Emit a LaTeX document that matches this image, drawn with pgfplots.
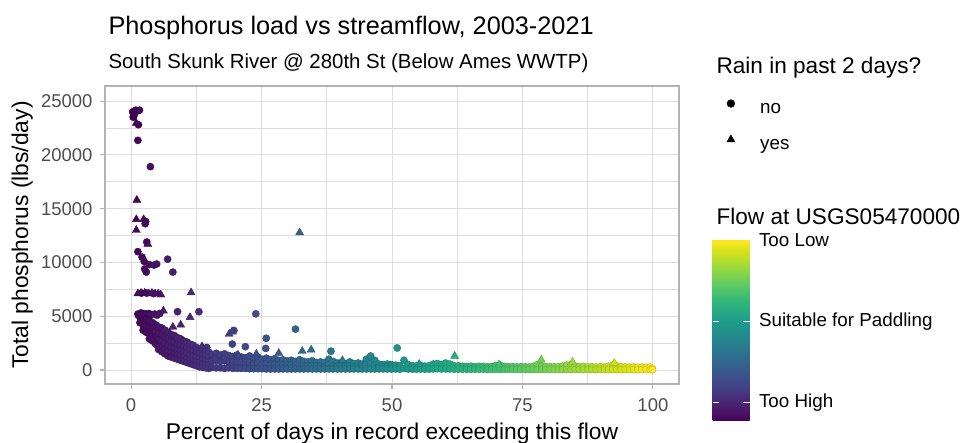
\documentclass[border=0pt]{standalone}
\usepackage{fontspec}
\setmainfont{Liberation Sans}
\usepackage{pgfplots}
\pgfplotsset{compat=1.18}
\definecolor{gray30}{HTML}{4D4D4D}
\definecolor{gray70}{HTML}{B3B3B3}
\definecolor{gray87}{HTML}{DEDEDE}
\newcommand{\fs}[1]{\fontsize{#1}{#1}\selectfont}

\begin{document}
\begin{tikzpicture}[x=1pt,y=1pt]
\begin{axis}[
  at={(105pt,59pt)}, anchor=south west,
  scale only axis, width=574pt, height=298pt,
  xmin=-5, xmax=105, ymin=-1300, ymax=26400,
  xtick={0,25,50,75,100}, ytick={0,5000,...,25000},
  minor xtick={12.5,37.5,62.5,87.5}, minor ytick={2500,7500,...,22500},
  grid=both,
  major grid style={draw=gray87, line width=1pt},
  minor grid style={draw=gray87, line width=0.6pt},
  minor tick length=0pt,
  tick pos=left, tick align=outside, major tick length=5pt,
  major tick style={draw=gray70, line width=1.1pt},
  axis line style={draw=gray70, line width=1.2pt},
  ticklabel style={font=\fs{18.5}, text=gray30},
  xticklabel style={yshift=-6pt},
  yticklabel style={xshift=-4pt},
  /pgf/number format/assume math mode=true,
  /pgf/number format/1000 sep={},
  scaled y ticks=false,
  colormap/viridis,
  point meta min=0, point meta max=100,
  colorbar,
  colorbar/width=37pt,
  colorbar style={
    at={(parent axis.south east)}, anchor=south west,
    xshift=25pt, yshift=-37pt,
    scale only axis, width=37pt, height=181pt,
    ymin=0, ymax=100,
    ytick={10.3,54.9,100},
    yticklabels={Too High, Suitable for Paddling, Too Low},
    yticklabel style={font=\fs{18.8}, text=black, xshift=6pt},
    yticklabel pos=right,
    major tick length=0pt,
    axis line style={draw=none},
    after end axis/.code={
      \draw[white, line width=1.1pt] (rel axis cs:0,0.103) -- (rel axis cs:0.175,0.103);
      \draw[white, line width=1.1pt] (rel axis cs:0.825,0.103) -- (rel axis cs:1,0.103);
      \draw[white, line width=1.1pt] (rel axis cs:0,0.549) -- (rel axis cs:0.175,0.549);
      \draw[white, line width=1.1pt] (rel axis cs:0.825,0.549) -- (rel axis cs:1,0.549);
    },
  },
  legend style={at={(1.0592,1.0023)}, anchor=north west, draw=none, fill=none,
    font=\fs{18.8}, inner sep=0pt, row sep=0pt,
    nodes={inner sep=0pt}},
  legend cell align=left,
  legend image code/.code={
    \path[draw=none, fill=none] (-17.7pt,-12pt) rectangle (29.3pt,24pt);
    \draw[#1] plot coordinates {(0pt,6pt)};
  },
]
\addlegendimage{only marks, mark=*, black, mark size=3.9pt}
\addlegendimage{only marks, mark=triangle*, black, mark size=4.6pt}
\legend{no, yes}

% Rain in past 2 days: no
\addplot[scatter, only marks, mark=*, mark size=3.6pt, scatter src=x, forget plot] coordinates {
(0.3,24000) (0.6,23700) (0.9,24150) (1.3,24100) (1.6,24150) (0.4,23500) (1.4,22800) (1.3,21350)
(3.7,18900) (2.7,13600) (2.8,13800) (3.0,11900) (1.3,11000) (2.1,10500) (2.5,10100) (3.5,9800)
(4.4,9750) (4.9,9850) (7.0,10300) (8.0,9100) (2.9,9100) (2.6,9400) (2.0,7150) (3.0,7150) (4.3,7100)
(8.9,5420) (13.0,5420) (23.9,5220) (31.5,3800) (19.7,3680) (21.9,2170) (25.9,2950) (25.8,2010)
(51.0,2050) (19.4,2410) (14.5,2100) (2.2,4480) (38.3,1750)
(1.3,5200) (1.9,5300) (2.4,5250) (2.9,5200) (3.4,5250) (3.9,5150) (4.5,5200) (5.0,5100) (5.5,5250)
(1.7,4900) (1.7,4400)
(2.3,4800) (2.3,4200) (2.3,3700)
(2.9,4700) (2.9,4100) (2.9,3500)
(3.5,4600) (3.5,4000) (3.5,3400) (3.5,2900)
(4.1,4400) (4.1,3800) (4.1,3200) (4.1,2700)
(4.7,4200) (4.7,3600) (4.7,3000) (4.7,2400)
(5.3,4000) (5.3,3400) (5.3,2800) (5.3,2200) (5.3,1900)
(5.9,3900) (5.9,3300) (5.9,2700) (5.9,2100) (5.9,1700)
(6.5,3700) (6.5,3100) (6.5,2500) (6.5,1900) (6.5,1500)
(7.1,3500) (7.1,2900) (7.1,2300) (7.1,1700) (7.1,1300)
(7.7,3300) (7.7,2700) (7.7,2100) (7.7,1600) (7.7,1200)
(8.3,3200) (8.3,2600) (8.3,2000) (8.3,1500) (8.3,1100)
(8.9,3000) (8.9,2400) (8.9,1900) (8.9,1400) (8.9,1000)
(9.5,2900) (9.5,2300) (9.5,1800) (9.5,1300) (9.5,900)
(10.1,2700) (10.1,2200) (10.1,1700) (10.1,1200) (10.1,800)
(10.7,2600) (10.7,2100) (10.7,1600) (10.7,1100) (10.7,700)
(11.3,2400) (11.3,1900) (11.3,1400) (11.3,1000) (11.3,600)
(11.9,2300) (11.9,1800) (11.9,1300) (11.9,900) (11.9,500)
(12.5,2100) (12.5,1700) (12.5,1250) (12.5,800) (12.5,400)
(13.1,1950) (13.1,1550) (13.1,1100) (13.1,700) (13.1,300)
(13.7,1850) (13.7,1400) (13.7,1000) (13.7,600) (13.7,250)
(14.3,1750) (14.3,1300) (14.3,900) (14.3,500) (14.3,200)
(14.9,1650) (14.9,1200) (14.9,800) (14.9,450) (14.9,150)
(15.5,1450) (15.5,850) (15.5,250) (16.3,1550) (16.3,900) (16.3,200)
(17.1,1400) (17.1,800) (17.1,200) (17.9,1500) (17.9,850) (17.9,150)
(18.7,1350) (18.7,750) (18.7,200) (19.5,1250) (19.5,700) (19.5,150)
(20.3,1400) (20.3,750) (20.3,150) (21.1,1200) (21.1,700) (21.1,150)
(21.9,1150) (21.9,650) (21.9,150) (22.7,1300) (22.7,700) (22.7,120)
(23.5,1100) (23.5,600) (23.5,120) (24.3,1200) (24.3,650) (24.3,120)
(25.1,1000) (25.1,550) (25.1,120) (25.9,1100) (25.9,600) (25.9,100)
(26.7,950) (26.7,550) (26.7,100) (27.5,1050) (27.5,550) (27.5,100)
(28.3,900) (28.3,500) (28.3,100) (29.1,950) (29.1,500) (29.1,100)
(29.9,850) (29.9,450) (29.9,100) (30.7,900) (30.7,500) (30.7,100)
(31.5,800) (31.5,450) (31.5,100) (32.3,950) (32.3,450) (32.3,100)
(33.1,800) (33.1,400) (33.1,100) (33.9,750) (33.9,400) (33.9,100)
(34.7,850) (34.7,450) (34.7,100) (35.5,700) (35.5,400) (35.5,100)
(36.3,750) (36.3,400) (36.3,100) (37.1,700) (37.1,350) (37.1,100)
(37.9,1000) (37.9,500) (37.9,100) (38.7,800) (38.7,400) (38.7,100)
(39.5,650) (39.5,350) (39.5,100) (40.3,700) (40.3,350) (40.3,100)
(41.1,600) (41.1,350) (41.1,100) (41.9,750) (41.9,400) (41.9,100)
(42.7,600) (42.7,300) (42.7,100) (43.5,650) (43.5,350) (43.5,100)
(44.3,550) (44.3,300) (44.3,100) (45.1,1000) (45.1,500) (45.1,100)
(45.9,1300) (45.9,600) (45.9,100) (46.7,900) (46.7,450) (46.7,100)
(47.5,550) (47.5,300) (47.5,100) (48.3,500) (48.3,300) (48.3,100)
(49.1,550) (49.1,300) (49.1,100) (49.9,500) (49.9,300) (49.9,100)
(50.7,450) (50.7,100) (51.5,400) (51.5,80) (52.3,900) (52.3,150) (53.1,500) (53.1,100)
(53.9,400) (53.9,80) (54.7,380) (54.7,80) (55.5,420) (55.5,100) (56.3,360) (56.3,80)
(57.1,400) (57.1,80) (57.9,550) (57.9,100) (58.7,600) (58.7,120) (59.5,500) (59.5,100)
(60.3,650) (60.3,100) (61.1,550) (61.1,100) (61.9,400) (61.9,80) (62.7,380) (62.7,80)
(63.5,350) (63.5,80) (64.3,330) (64.3,70) (65.1,350) (65.1,70) (65.9,320) (65.9,70)
(66.7,340) (66.7,70) (67.5,330) (67.5,70) (68.3,300) (68.3,60) (69.1,320) (69.1,60)
(69.9,420) (69.9,60) (70.7,450) (70.7,60) (71.5,330) (71.5,60) (72.3,300) (72.3,60)
(73.1,320) (73.1,60) (73.9,290) (73.9,60) (74.7,310) (74.7,60) (75.5,300) (75.5,50)
(76.3,280) (76.3,50) (77.1,350) (77.1,50) (77.9,500) (77.9,50) (78.7,380) (78.7,50)
(79.5,300) (79.5,50) (80.3,320) (80.3,50) (81.1,290) (81.1,50) (81.9,310) (81.9,50)
(82.7,350) (82.7,50) (83.5,450) (83.5,50) (84.3,500) (84.3,50) (85.1,380) (85.1,50)
(85.9,300) (85.9,50) (86.7,330) (86.7,50) (87.5,290) (87.5,50) (88.3,300) (88.3,50)
(89.1,280) (89.1,40) (89.9,300) (89.9,40) (90.7,270) (90.7,40) (91.5,350) (91.5,40)
(92.3,450) (92.3,40) (93.1,400) (93.1,40) (93.9,300) (93.9,40) (94.7,280) (94.7,40)
(95.5,260) (95.5,40) (96.3,280) (96.3,40) (97.1,250) (97.1,40) (97.9,270) (97.9,40)
(98.7,250) (98.7,40) (99.5,280) (99.5,40) (99.9,150) (99.9,40)
};

% Rain in past 2 days: yes
\addplot[scatter, only marks, mark=triangle*, mark size=4.6pt, scatter src=x, forget plot] coordinates {
(1.0,22950) (1.1,15800) (1.0,14000) (2.4,14000) (1.0,13000) (3.2,11700) (1.3,7100) (1.9,7150)
(2.6,7150) (3.4,7100) (4.0,7150) (4.6,7100) (5.2,7100) (5.7,7000) (11.5,7200) (6.2,5500)
(11.3,4900) (9.5,4200) (18.8,3350) (19.4,3550) (28.3,1570) (32.3,12780) (32.8,1750) (34.5,1880)
(62.0,1300) (78.6,950) (4.1,2800) (1.6,5050) (20.5,1400) (24.0,1500) (40.5,900) (55.2,550)
(70.5,500) (84.6,750) (92.6,650) (8.0,4000) (13.6,2200)
};
\end{axis}

\node[anchor=base west, font=\fs{25.3}] at (105,408) {Phosphorus load vs streamflow, 2003-2021};
\node[anchor=base west, font=\fs{20.4}] at (105,374) {South Skunk River @ 280th St (Below Ames WWTP)};
\node[anchor=base, font=\fs{22.8}] at (392,3) {Percent of days in record exceeding this flow};
\node[anchor=base, rotate=90, font=\fs{22.8}] at (28,208) {Total phosphorus (lbs/day)};
\node[anchor=base west, font=\fs{22.6}] at (713,369.7) {Rain in past 2 days?};
\node[anchor=base west, font=\fs{22.6}] at (713,218) {Flow at USGS05470000};

\pgfresetboundingbox
\path[use as bounding box] (0,0) rectangle (963,443);
\end{tikzpicture}
\end{document}
